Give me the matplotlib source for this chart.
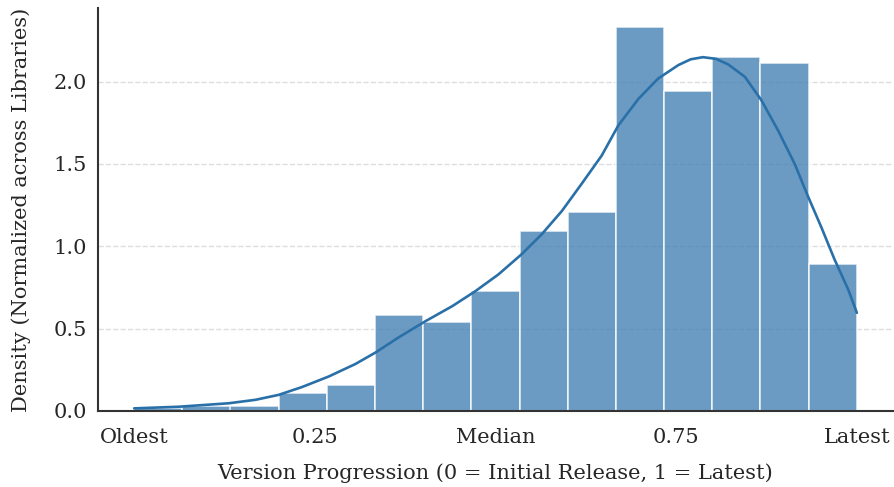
import numpy as np
import matplotlib
matplotlib.use("Agg")
import matplotlib.pyplot as plt

# histogram (15 bins over 0..1), density values
bin_edges = [i / 15 for i in range(16)]
density = [0.02, 0.03, 0.03, 0.11, 0.16, 0.58, 0.54, 0.73, 1.09, 1.21,
           2.33, 1.94, 2.15, 2.11, 0.89]

# KDE curve
kde_x = [0.0, 0.062, 0.131, 0.168, 0.200, 0.232, 0.269, 0.306, 0.334, 0.366,
         0.403, 0.440, 0.472, 0.504, 0.536, 0.564, 0.592, 0.619, 0.647, 0.670,
         0.698, 0.725, 0.753, 0.770, 0.787, 0.805, 0.822, 0.845, 0.868, 0.891,
         0.914, 0.932, 0.951, 0.969, 0.988, 1.0]
kde_y = [0.016, 0.026, 0.047, 0.068, 0.098, 0.145, 0.209, 0.285, 0.355, 0.447,
         0.545, 0.636, 0.727, 0.829, 0.951, 1.073, 1.215, 1.378, 1.551, 1.734,
         1.896, 2.018, 2.100, 2.135, 2.148, 2.138, 2.104, 2.029, 1.886, 1.703,
         1.500, 1.307, 1.114, 0.921, 0.738, 0.596]

xticks = [0, 0.25, 0.5, 0.75, 1.0]
xtick_labels = ["Oldest", "0.25", "Median", "0.75", "Latest"]
yticks = [0.0, 0.5, 1.0, 1.5, 2.0]

plt.rcParams["font.family"] = ["DejaVu Serif"]

fig, ax = plt.subplots(figsize=(8.95, 4.87), dpi=100)
fig.subplots_adjust(left=98 / 895, right=893 / 895, top=1 - 8 / 487, bottom=1 - 411 / 487)

widths = np.diff(bin_edges)
ax.bar(bin_edges[:-1], density, width=widths, align="edge", color="steelblue",
       alpha=0.8, edgecolor="white", linewidth=1.2, zorder=2)
ax.plot(kde_x, kde_y, color="#2a70a8", lw=1.9, zorder=3,
        solid_joinstyle="round", solid_capstyle="round")

ax.set_xlim(-0.05, 1.05)
ax.set_ylim(0, 2.33 * 1.05)
ax.set_xticks(xticks)
ax.set_xticklabels(xtick_labels)
ax.set_yticks(yticks)
ax.set_yticklabels([f"{v:.1f}" for v in yticks])
ax.tick_params(axis="both", length=0, labelsize=15, colors="#262626", pad=8)
ax.tick_params(axis="x", pad=12)
ax.grid(axis="y", ls="--", color="#dddddd", lw=1, zorder=0)
ax.set_axisbelow(True)
for s in ["top", "right"]:
    ax.spines[s].set_visible(False)
for s in ["left", "bottom"]:
    ax.spines[s].set_color("#333333")
    ax.spines[s].set_linewidth(1.5)
ax.set_xlabel("Version Progression (0 = Initial Release, 1 = Latest)", fontsize=15,
              color="#262626", labelpad=12)
ax.set_ylabel("Density (Normalized across Libraries)", fontsize=15, color="#262626",
              labelpad=16)

fig.savefig("out.png", dpi=100)
